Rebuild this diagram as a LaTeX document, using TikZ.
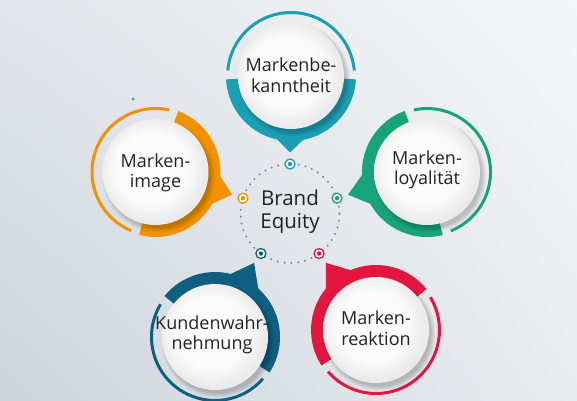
\documentclass[tikz,border=0pt]{standalone}
\usepackage{fontspec}
\setmainfont{Open Sans}
\usetikzlibrary{calc,shadings}
\definecolor{cTeal}{HTML}{1AA0B4}
\definecolor{cOrange}{HTML}{F39200}
\definecolor{cGreen}{HTML}{17A47A}
\definecolor{cBlue}{HTML}{0E5F82}
\definecolor{cRed}{HTML}{E4163F}
\definecolor{txt}{HTML}{222222}
\definecolor{dotgray}{HTML}{7F878F}
\definecolor{bgUL}{RGB}{226,230,234}
\definecolor{bgUR}{RGB}{245,246,247}
\definecolor{bgLL}{RGB}{205,212,219}
\definecolor{bgLR}{RGB}{233,236,239}
\pgfdeclareradialshading{bubbleshade}{\pgfpoint{-3bp}{3bp}}{color(0bp)=(white); color(17bp)=(white!98!black); color(25bp)=(white!92!black); color(50bp)=(white!92!black)}
\newcommand{\bubblepart}[4]{%
  \fill[#4] (#1c) -- ($(#1c)+({#2-87}:65pt)$) arc[start angle={#2-87}, end angle={#2+87}, radius=65pt] -- cycle;
  \fill[#4] ($(#1c)!60pt!20:(#3)$) -- (#3) -- ($(#1c)!60pt!-20:(#3)$) -- cycle;
  \draw[#4, line width=3pt] ($(#1c)+({#2+95}:63.5pt)$) arc[start angle={#2+95}, end angle={#2+265}, radius=63.5pt];
  \foreach \k in {1,...,6} {\fill[black, opacity=0.035] ($(#1c)+(3,-4)$) circle[radius=51pt+\k*0.9pt];}
  \node[bubble] (#1) at (#1c) {};
}
\begin{document}
\begin{tikzpicture}[x=1pt,y=1pt,
  bubble/.style={circle, minimum size=106pt, inner sep=0pt, shade, shading=bubbleshade},
  lbl/.style={align=center, text=txt, font=\fontsize{18}{20.5}\selectfont, inner sep=0pt},
  marker/.style={circle, draw=#1, line width=1.3pt, fill=white, minimum size=10pt, inner sep=0pt,
    path picture={\fill[#1] (path picture bounding box.center) circle[radius=2.2pt];}}]
\useasboundingbox (0,0) rectangle (577,400);
\shade[upper left=bgUL, upper right=bgUR, lower left=bgLL, lower right=bgLR] (0,0) rectangle (577,400);

\coordinate (C) at (290,186.5);
\draw[dotgray, line width=2.2pt, line cap=round, dash pattern=on 0pt off 6.9pt] (C) circle[radius=49.5pt];

\coordinate (Ttip) at ($(C)+(90:61pt)$);
\coordinate (Otip) at ($(C)+(162:61pt)$);
\coordinate (Gtip) at ($(C)+(18:61pt)$);
\coordinate (Btip) at ($(C)+(234:61pt)$);
\coordinate (Rtip) at ($(C)+(306:61pt)$);

\coordinate (Tc) at (291,324);
\coordinate (Oc) at (155.5,228);
\coordinate (Gc) at (427,228);
\coordinate (Bc) at (215,63);
\coordinate (Rc) at (376,70);

\bubblepart{T}{-90}{Ttip}{cTeal}
\bubblepart{O}{-17.5}{Otip}{cOrange}
\bubblepart{G}{197}{Gtip}{cGreen}
\bubblepart{B}{54}{Btip}{cBlue}
\bubblepart{R}{126}{Rtip}{cRed}

\node[lbl] (Tt) at ($(T)+(0,1)$) {Markenbe-\\kanntheit};
\node[lbl] (Ot) at ($(O)+(0,-1)$) {Marken-\\image};
\node[lbl] (Gt) at ($(G)+(0,2)$) {Marken-\\loyalität};
\node[lbl] (Bt) at ($(B)+(-3,2)$) {Kundenwahr-\\nehmung};
\node[lbl] (Rt) at ($(R)+(0,2)$) {Marken-\\reaktion};

\node[marker=cTeal] (mT) at ($(C)+(90:49.5pt)$) {};
\node[marker=cOrange] (mO) at ($(C)+(162:49.5pt)$) {};
\node[marker=cGreen] (mG) at ($(C)+(18:49.5pt)$) {};
\node[marker=cBlue] (mB) at ($(C)+(234:49.5pt)$) {};
\node[marker=cRed] (mR) at ($(C)+(306:49.5pt)$) {};

\node[align=center, text=txt, font=\fontsize{20.5}{23}\selectfont, inner sep=0pt] (be) at (290,188) {Brand\\Equity};

\fill[cTeal] (133,301) circle[radius=1.5pt];
\end{tikzpicture}
\end{document}
